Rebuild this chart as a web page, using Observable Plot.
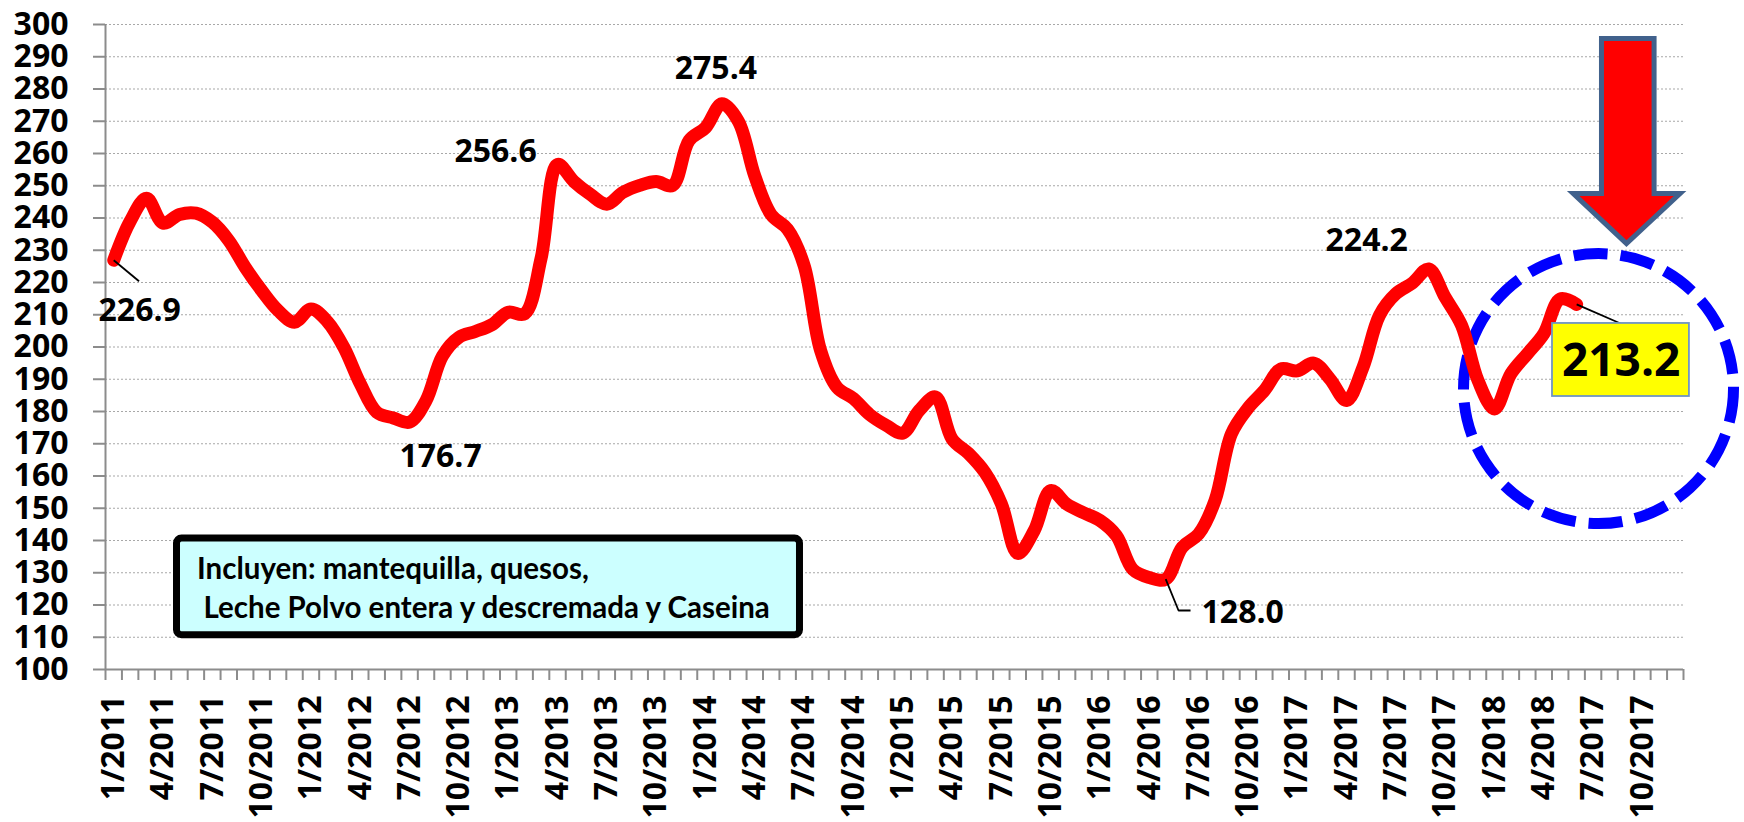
<!DOCTYPE html>
<html>
<head>
<meta charset="utf-8">
<script src="https://cdn.jsdelivr.net/npm/d3@7"></script>
<script src="https://cdn.jsdelivr.net/npm/@observablehq/plot@0.6"></script>
<style>
  html, body { margin: 0; padding: 0; background: #ffffff; }
  #chart svg { display: block; }
</style>
</head>
<body>
<div id="chart"></div>
<script>
// Monthly index values, 1/2011 .. 6/2018
const values = [
  226.9, 239.0, 246.1, 238.4, 241.1, 241.5, 238.7, 233.0, 224.7, 217.5, 211.3, 207.7,
  211.8, 207.9, 199.9, 188.6, 179.8, 178.0, 176.7, 183.4, 197.2, 203.0, 204.8, 206.9,
  210.8, 210.3, 227.5, 256.6, 251.3, 247.3, 244.3, 248.0, 250.1, 251.3, 250.1, 264.0,
  268.0, 275.4, 270.0, 253.0, 241.0, 236.5, 225.3, 199.0, 187.5, 184.0, 179.0, 175.7,
  173.3, 180.3, 184.5, 171.5, 167.0, 161.1, 151.4, 136.0, 143.1, 155.5, 151.2, 148.6,
  146.2, 141.5, 131.0, 128.5, 128.0, 137.9, 142.0, 152.4, 173.1, 181.0, 186.5, 193.2,
  192.6, 195.0, 190.0, 183.4, 193.7, 209.8, 216.5, 219.8, 224.2, 215.4, 206.7, 189.6,
  180.8, 191.7, 197.9, 204.1, 214.9, 213.2
];

// Category tick labels (every third month), as printed on the chart
const xLabels = [
  "1/2011", "4/2011", "7/2011", "10/2011",
  "1/2012", "4/2012", "7/2012", "10/2012",
  "1/2013", "4/2013", "7/2013", "10/2013",
  "1/2014", "4/2014", "7/2014", "10/2014",
  "1/2015", "4/2015", "7/2015", "10/2015",
  "1/2016", "4/2016", "7/2016", "10/2016",
  "1/2017", "4/2017", "7/2017", "10/2017",
  "1/2018", "4/2018", "7/2017", "10/2017"
];
const categoryCount = xLabels.length * 3;

const yTicks = [100, 110, 120, 130, 140, 150, 160, 170, 180, 190, 200,
                210, 220, 230, 240, 250, 260, 270, 280, 290, 300];

// Highlighted values (category index, value, text)
const highlights = [
  { i: 0,  v: 226.9, t: "226.9" },
  { i: 18, v: 176.7, t: "176.7" },
  { i: 27, v: 256.6, t: "256.6" },
  { i: 37, v: 275.4, t: "275.4" },
  { i: 64, v: 128.0, t: "128.0" },
  { i: 80, v: 224.2, t: "224.2" }
];
const lastPoint = { i: 89, v: 213.2, t: "213.2" };

// Note text
const noteLines = ["Incluyen: mantequilla, quesos,", "Leche Polvo entera y descremada y Caseina"];

// ---- annotation geometry (in data units) ----
const labelOffsets = { "226.9": [26, 51], "176.7": [31, 35], "256.6": [-62, -13],
                       "275.4": [-6, -35], "128.0": [77, 34], "224.2": [-62, -28] };
const leaders = [
  [{ i: 0, v: 226.9 }, { i: 1.54, v: 220.4 }],
  [{ i: 64, v: 128.0 }, { i: 64.78, v: 118.3 }, { i: 65.51, v: 118.3 }],
  [{ i: 89, v: 213.2 }, { i: 91.67, v: 207.3 }]
];
const noteBox = { x1: 3.85, x2: 41.75, y1: 110.6, y2: 140.6 };
const notePos = [{ i: 5.07, v: 131.0 }, { i: 5.46, v: 118.9 }];
const valueBox = { x1: 87.53, x2: 95.86, y1: 184.65, y2: 207.3 };
const ring = [{ i: 90.33, v: 187.1 }];
const arrow = [
  { i: 90.51, v: 295.66 }, { i: 93.71, v: 295.66 }, { i: 93.71, v: 247.6 },
  { i: 95.29, v: 247.6 }, { i: 92.03, v: 232.1 }, { i: 88.79, v: 247.6 },
  { i: 90.51, v: 247.6 }
];

const series = values.map((v, i) => ({ i, v }));
const monthBounds = d3.range(categoryCount + 1).map(k => k - 0.5);
const labelPos = xLabels.map((_, k) => k * 3);

const font = "'Open Sans', 'DejaVu Sans', sans-serif";
const noteFont = "Lato, 'Open Sans', sans-serif";

const marks = [
  Plot.ruleY(yTicks.filter(v => v > 100), { stroke: "#a8a8a8", strokeWidth: 1.2, strokeDasharray: "2,2" }),
  Plot.axisY(yTicks, { tickSize: 12, tickPadding: 25, fontSize: 32, fontWeight: "bold",
                        stroke: "#8c8c8c", strokeWidth: 2, fill: "#000", label: null }),
  Plot.ruleX([-0.5], { stroke: "#8c8c8c", strokeWidth: 2 }),
  Plot.ruleY([100], { stroke: "#8c8c8c", strokeWidth: 2 }),
  Plot.axisX(monthBounds, { tickSize: 11, tickFormat: () => "", stroke: "#8c8c8c", strokeWidth: 2, label: null }),
  Plot.axisX(labelPos, { tickSize: 0, tickPadding: 26, tickRotate: -90, tickFormat: d => xLabels[d / 3],
                          fontSize: 32, fontWeight: "bold", fill: "#000", label: null }),
  // note box
  Plot.rect([noteBox], { x1: "x1", x2: "x2", y1: "y1", y2: "y2", fill: "#CCFFFF", stroke: "#000",
                         strokeWidth: 7, rx: 5 }),
  Plot.text([{ ...notePos[0], t: noteLines[0] }], { x: "i", y: "v", text: "t", textAnchor: "start",
                         fontSize: 29.5, fontWeight: "bold", fontFamily: noteFont, fill: "#000" }),
  Plot.text([{ ...notePos[1], t: noteLines[1] }], { x: "i", y: "v", text: "t", textAnchor: "start",
                         fontSize: 29.5, fontWeight: "bold", fontFamily: noteFont, fill: "#000" }),
  // dashed ring
  Plot.dot(ring, { x: "i", y: "v", r: 135, fill: "none", stroke: "#0000FF", strokeWidth: 11,
                   strokeDasharray: "34,13" }),
  // data line
  Plot.line(series, { x: "i", y: "v", stroke: "#FF0000", strokeWidth: 13, curve: "catmull-rom" }),
  // leader lines
  ...leaders.map(l => Plot.line(l, { x: "i", y: "v", stroke: "#000", strokeWidth: 1.8,
                                     strokeLinecap: "butt", strokeLinejoin: "miter" })),
  // value labels
  ...highlights.map(h => Plot.text([h], { x: "i", y: "v", text: "t",
                                          dx: labelOffsets[h.t][0], dy: labelOffsets[h.t][1],
                                          fontSize: 32, fontWeight: "bold", fill: "#000" })),
  // last value box
  Plot.rect([valueBox], { x1: "x1", x2: "x2", y1: "y1", y2: "y2", fill: "#FFFF00",
                          stroke: "#6F95C4", strokeWidth: 1.8 }),
  Plot.text([lastPoint], { x: "i", y: "v", text: "t", dx: 44.5, dy: 57,
                           fontSize: 46, fontWeight: "bold", fill: "#000" }),
  // arrow
  Plot.line(arrow, { x: "i", y: "v", curve: "linear-closed", fill: "#FF0000", stroke: "#41618C",
                     strokeWidth: 5, strokeLinejoin: "miter", strokeMiterlimit: 10 })
];

const chart = Plot.plot({
  width: 1744,
  height: 822,
  marginLeft: 105,
  marginRight: 61,
  marginTop: 24,
  marginBottom: 153,
  style: { fontFamily: font, fontWeight: "bold", background: "#ffffff", color: "#000", overflow: "visible" },
  x: { domain: [-0.5, categoryCount - 0.5] },
  y: { domain: [100, 300] },
  marks
});
document.getElementById("chart").appendChild(chart);
</script>
</body>
</html>
